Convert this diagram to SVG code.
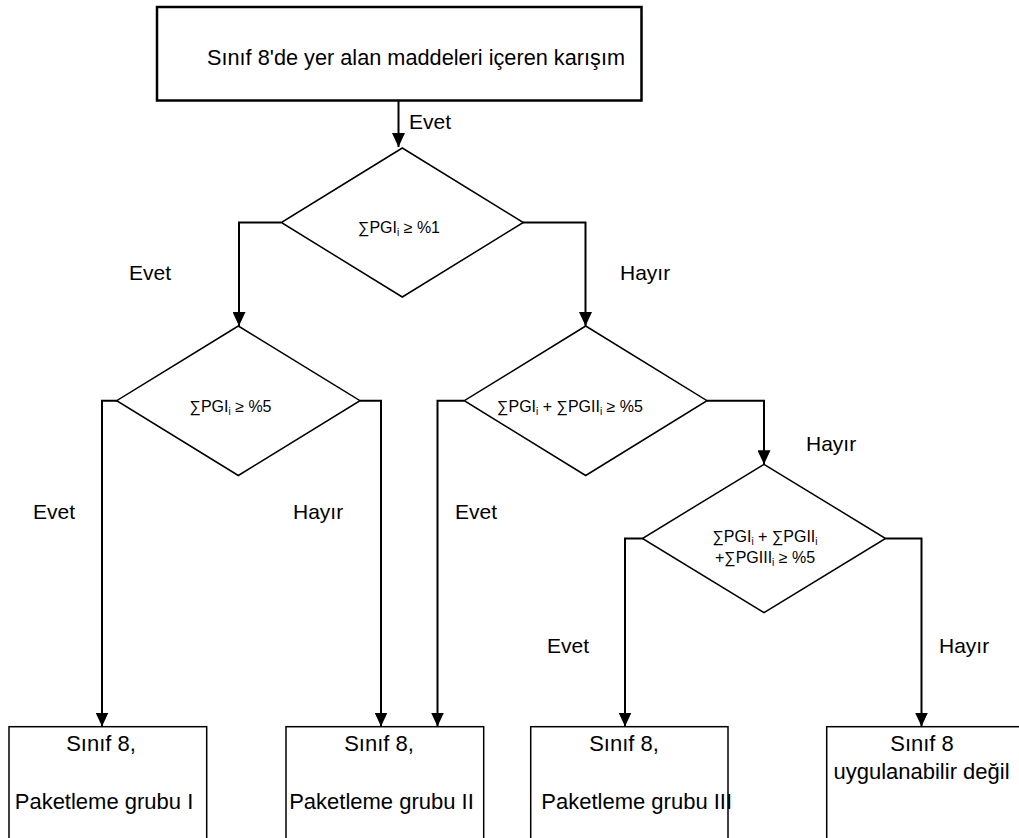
<svg xmlns="http://www.w3.org/2000/svg" width="1019" height="838" viewBox="0 0 1019 838">
<style>
text{font-family:"Liberation Sans",Arial,sans-serif;fill:#000}
.box{fill:#fff;stroke:#000;stroke-width:1.5}
.top{fill:#fff;stroke:#000;stroke-width:2.5}
.dia{fill:#fff;stroke:#000;stroke-width:1.5}
.con{fill:none;stroke:#000;stroke-width:2}
.t{font-size:22px}
.l{font-size:21px}
.d{font-size:16px;text-anchor:middle}
.m{text-anchor:middle}
.s{font-size:10px}
</style>
<defs>
<marker id="arr" viewBox="0 0 14 13" refX="14" refY="6.5" markerWidth="14" markerHeight="13" markerUnits="userSpaceOnUse" orient="auto">
<path d="M0,0 L14,6.5 L0,13 Z" fill="#000"/>
</marker>
</defs>
<rect width="1019" height="838" fill="#fff"/>

<g id="connectors">
<path class="con" d="M398.5,101 V147" marker-end="url(#arr)"/>
<path class="con" d="M281,222.5 H239 V326" marker-end="url(#arr)"/>
<path class="con" d="M523,222.5 H585.5 V326" marker-end="url(#arr)"/>
<path class="con" d="M117,400.7 H102 V726.5" marker-end="url(#arr)"/>
<path class="con" d="M360,400.7 H381 V726.5" marker-end="url(#arr)"/>
<path class="con" d="M464.3,400.7 H437.5 V726.5" marker-end="url(#arr)"/>
<path class="con" d="M707,400.7 H764 V464.3" marker-end="url(#arr)"/>
<path class="con" d="M642.7,538.5 H625 V726.5" marker-end="url(#arr)"/>
<path class="con" d="M885.5,538.5 H921.5 V726.5" marker-end="url(#arr)"/>
</g>

<g id="labels">
<text class="l" x="409" y="129">Evet</text>
<text class="l" x="129" y="280">Evet</text>
<text class="l" x="620" y="280">Hayır</text>
<text class="l" x="33" y="519">Evet</text>
<text class="l" x="293" y="519">Hayır</text>
<text class="l" x="455" y="519">Evet</text>
<text class="l" x="806" y="451">Hayır</text>
<text class="l" x="547" y="653">Evet</text>
<text class="l" x="939" y="653">Hayır</text>
</g>

<g id="start">
<rect class="top" x="157" y="7" width="484.5" height="93.5"/>
<text class="t" x="207" y="65" textLength="418" lengthAdjust="spacingAndGlyphs">Sınıf 8'de yer alan maddeleri içeren karışım</text>
</g>

<g id="d1">
<polygon class="dia" points="402.3,148 523.3,222.5 402.3,297 281.3,222.5"/>
<text class="d" x="399" y="233">∑PGI<tspan class="s" dy="3">i</tspan><tspan dy="-3"> ≥ %1</tspan></text>
</g>

<g id="d2">
<polygon class="dia" points="238.3,326 360,400.7 238.3,475.5 116.7,400.7"/>
<text class="d" x="230.5" y="412">∑PGI<tspan class="s" dy="3">i</tspan><tspan dy="-3"> ≥ %5</tspan></text>
</g>

<g id="d3">
<polygon class="dia" points="585.7,326 707,400.7 585.7,475.5 464.3,400.7"/>
<text class="d" x="570" y="412">∑PGI<tspan class="s" dy="3">i</tspan><tspan dy="-3"> + ∑PGII</tspan><tspan class="s" dy="3">i</tspan><tspan dy="-3"> ≥ %5</tspan></text>
</g>

<g id="d4">
<polygon class="dia" points="764,464.3 885.6,538.5 764,612.7 642.4,538.5"/>
<text class="d" x="765" y="542">∑PGI<tspan class="s" dy="3">i</tspan><tspan dy="-3"> + ∑PGII</tspan><tspan class="s" dy="3">i</tspan></text>
<text class="d" x="765" y="563">+∑PGIII<tspan class="s" dy="3">i</tspan><tspan dy="-3"> ≥ %5</tspan></text>
</g>

<g id="pg1">
<rect class="box" x="9" y="726.7" width="197.7" height="130"/>
<text class="t m" x="101" y="751">Sınıf 8,</text>
<text class="t m" x="104" y="809">Paketleme grubu I</text>
</g>

<g id="pg2">
<rect class="box" x="286" y="726.7" width="197.7" height="130"/>
<text class="t m" x="379" y="751">Sınıf 8,</text>
<text class="t m" x="381.5" y="809">Paketleme grubu II</text>
</g>

<g id="pg3">
<rect class="box" x="530.7" y="726.7" width="197.3" height="130"/>
<text class="t m" x="624" y="751">Sınıf 8,</text>
<text class="t m" x="636.7" y="809">Paketleme grubu III</text>
</g>

<g id="na">
<rect class="box" x="826.7" y="726.7" width="220" height="130"/>
<text class="t m" x="922" y="751">Sınıf 8</text>
<text class="t m" x="921.5" y="779">uygulanabilir değil</text>
</g>
</svg>
